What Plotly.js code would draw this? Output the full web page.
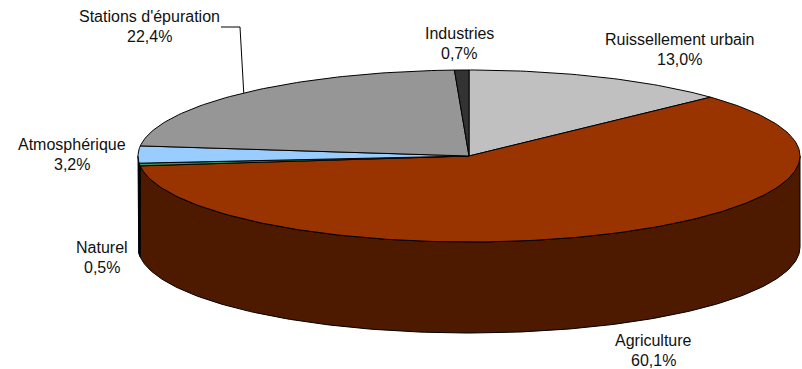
<!DOCTYPE html>
<html>
<head>
<meta charset="utf-8">
<script src="https://cdn.plot.ly/plotly-3.0.1.min.js"></script>
<style>html,body{margin:0;padding:0;background:#fff}#chart{width:802px;height:369px}</style>
</head>
<body>
<div id="chart"></div>
<script>
// Sources by share, clockwise from twelve o'clock
const categories = ['Ruissellement urbain', 'Agriculture', 'Naturel', 'Atmosphérique', "Stations d'épuration", 'Industries'];
const shares = [13.0, 60.1, 0.5, 3.2, 22.4, 0.7];
const topColors = ['#c0c0c0', '#993300', '#339966', '#99ccff', '#969696', '#333333'];
const sideColors = ['#606060', '#4d1a00', '#000000', '#000000', '#4b4b4b', '#1a1a1a'];
const labelCentres = [[679, 39], [653, 340], [102, 247], [72, 144], [149, 16], [459, 33]];

// Tilted disc geometry, in plot units (the axes run in screen-like units)
const cx = 469, cy = 156, rx = 331, ry = 86, depth = 91;
const lineGap = 20.5;

const rad = d => d * Math.PI / 180;
const px = a => cx + rx * Math.sin(rad(a));
const py = a => cy - ry * Math.cos(rad(a));
const total = shares.reduce((s, v) => s + v, 0);

function arc(a, b) {
  const n = Math.max(2, Math.ceil(Math.abs(b - a)));
  return Array.from({length: n + 1}, (_, i) => a + (b - a) * i / n);
}

const spans = [];
let run = 0;
shares.forEach(v => { const a = run; run += v / total * 360; spans.push([a, run]); });

const area = (x, y, fill) => ({
  x, y, type: 'scatter', mode: 'lines', fill: 'toself', fillcolor: fill,
  line: {color: '#000', width: 1}, hoverinfo: 'skip', showlegend: false
});

const traces = [];

// Rim: only the part of each slice on the near half of the disc is visible
spans.forEach(([a, b], i) => {
  const s = Math.max(a, 90), e = Math.min(b, 270);
  if (e <= s) return;
  const t = arc(s, e);
  const x = t.map(px).concat(t.slice().reverse().map(px));
  const y = t.map(py).concat(t.slice().reverse().map(d => py(d) + depth));
  x.push(x[0]); y.push(y[0]);
  traces.push(area(x, y, sideColors[i]));
});

// Top face
spans.forEach(([a, b], i) => {
  const t = arc(a, b);
  traces.push(area([cx, ...t.map(px), cx], [cy, ...t.map(py), cy], topColors[i]));
});

// Leader from the Stations label to the middle of its slice
const stations = categories.indexOf("Stations d'épuration");
const mid = (spans[stations][0] + spans[stations][1]) / 2;
traces.push({
  x: [221, 240, px(mid)], y: [27, 27, py(mid)], type: 'scatter', mode: 'lines',
  line: {color: '#000', width: 1}, hoverinfo: 'skip', showlegend: false
});

const font = {family: '"Liberation Sans", Arial, sans-serif', size: 16, color: '#111'};
const annotations = [];
categories.forEach((name, i) => {
  const [x, y] = labelCentres[i];
  const value = shares[i].toFixed(1).replace('.', ',') + '%';
  [name, value].forEach((text, k) => annotations.push({
    x, y: y + k * lineGap, text, showarrow: false, xanchor: 'center', yanchor: 'middle', font
  }));
});

const hidden = {visible: false, fixedrange: true};
Plotly.newPlot('chart', traces, {
  width: 802, height: 369,
  margin: {l: 0, r: 0, t: 0, b: 0},
  paper_bgcolor: '#fff', plot_bgcolor: '#fff',
  xaxis: {...hidden, range: [0, 802]},
  yaxis: {...hidden, range: [369, 0]},
  annotations, showlegend: false
}, {displayModeBar: false, staticPlot: true});
</script>
</body>
</html>
